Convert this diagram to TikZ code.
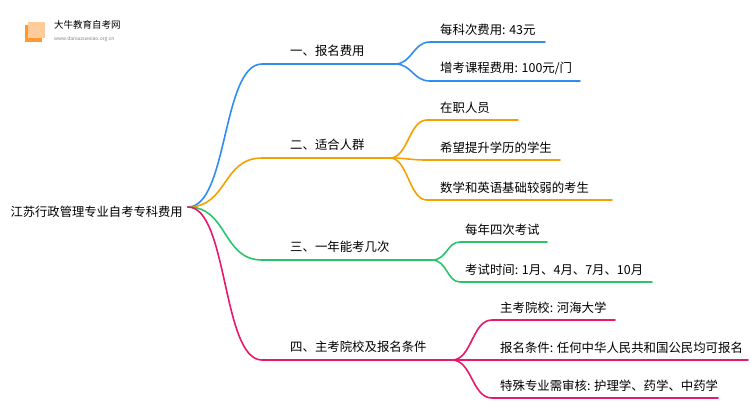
\documentclass[tikz,border=0pt]{standalone}
\usepackage{fontspec}
\setmainfont{Noto Sans CJK SC}
\definecolor{cb}{HTML}{2F8DF2}
\definecolor{co}{HTML}{F2A100}
\definecolor{cg}{HTML}{2BC46A}
\definecolor{cp}{HTML}{E8186C}
\tikzset{lab/.style={anchor=south west,inner sep=0pt,font=\fontsize{12.4}{12.4}\selectfont},
 ln/.style={line width=1.6pt,line cap=round}}
\begin{document}
\begin{tikzpicture}[x=1pt,y=-1pt]
\path[use as bounding box] (0,0) rectangle (750,410);
% logo
\fill[orange!80] (25,25) rectangle (42,42);
\fill[orange!40] (28,22) rectangle (45,38);
\node[anchor=west,inner sep=0pt,font=\fontsize{9.5}{9.5}\selectfont] (logo) at (54,25) {大牛教育自考网};
\node[anchor=west,inner sep=0pt,font=\fontsize{5}{5}\selectfont,text=gray] (url) at (54,39) {www.daniuzuexiao.org.cn};
\node[anchor=east,inner sep=0pt,font=\fontsize{12.3}{12.3}\selectfont] (root) at (183,212) {江苏行政管理专业自考专科费用};
\coordinate (r) at (188,207);
\coordinate (b1) at (262,64); \coordinate (e1) at (395,64);
\coordinate (b2) at (262,158); \coordinate (e2) at (390,158);
\coordinate (b3) at (262,260); \coordinate (e3) at (432,260);
\coordinate (b4) at (262,360); \coordinate (e4) at (452,360);
\draw[ln,cb] (r) .. controls (228,207) and (222,64) .. (b1) -- (e1);
\draw[ln,co] (r) .. controls (228,207) and (222,158) .. (b2) -- (e2);
\draw[ln,cg] (r) .. controls (228,207) and (222,260) .. (b3) -- (e3);
\draw[ln,cp] (r) .. controls (228,207) and (222,360) .. (b4) -- (e4);
\node[lab] (t1) at (290,57) {一、报名费用};
\node[lab] (t2) at (290,151) {二、适合人群};
\node[lab] (t3) at (290,253) {三、一年能考几次};
\node[lab] (t4) at (290,353) {四、主考院校及报名条件};
\coordinate (s11) at (430,42); \coordinate (s12) at (430,81);
\draw[ln,cb] (e1) .. controls (412,64) and (413,42) .. (s11) -- (545,42);
\draw[ln,cb] (e1) .. controls (412,64) and (413,81) .. (s12) -- (580,81);
\node[lab] (u11) at (440,36) {每科次费用: 43元};
\node[lab] (u12) at (440,75) {增考课程费用: 100元/门};
\coordinate (s21) at (427,120); \coordinate (s22) at (427,160); \coordinate (s23) at (427,200);
\draw[ln,co] (e2) .. controls (408,158) and (409,120) .. (s21) -- (518,120);
\draw[ln,co] (e2) .. controls (408,158) and (409,160) .. (s22) -- (560,160);
\draw[ln,co] (e2) .. controls (408,158) and (409,200) .. (s23) -- (612,200);
\node[lab] (u21) at (440,114) {在职人员};
\node[lab] (u22) at (440,154) {希望提升学历的学生};
\node[lab] (u23) at (440,194) {数学和英语基础较弱的考生};
\coordinate (s31) at (460,242); \coordinate (s32) at (460,282);
\draw[ln,cg] (e3) .. controls (447,260) and (447,242) .. (s31) -- (547,242);
\draw[ln,cg] (e3) .. controls (447,260) and (447,282) .. (s32) -- (652,282);
\node[lab] (u31) at (465,236) {每年四次考试};
\node[lab] (u32) at (465,276) {考试时间: 1月、4月、7月、10月};
\coordinate (s41) at (492,320); \coordinate (s42) at (492,360); \coordinate (s43) at (492,398);
\draw[ln,cp] (e4) .. controls (472,360) and (472,320) .. (s41) -- (615,320);
\draw[ln,cp] (e4) .. controls (472,360) and (472,360) .. (s42) -- (748,360);
\draw[ln,cp] (e4) .. controls (472,360) and (472,398) .. (s43) -- (718,398);
\node[lab] (u41) at (500,314) {主考院校: 河海大学};
\node[lab] (u42) at (500,354) {报名条件: 任何中华人民共和国公民均可报名};
\node[lab] (u43) at (500,392) {特殊专业需审核: 护理学、药学、中药学};
\end{tikzpicture}
\end{document}
